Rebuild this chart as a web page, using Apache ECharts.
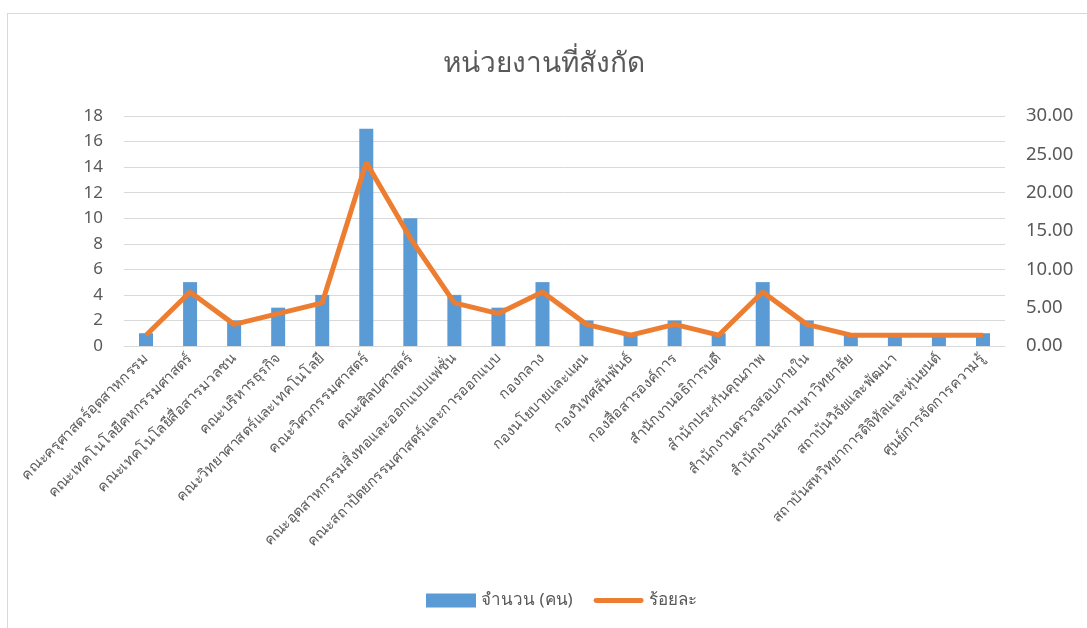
<!DOCTYPE html>
<html><head><meta charset="utf-8">
<script src="https://cdn.jsdelivr.net/npm/echarts@6/dist/echarts.min.js"></script>
<style>html,body{margin:0;padding:0;background:#fff;overflow:hidden}
#c{width:1087px;height:628px;position:absolute;left:0;top:0}
#b{position:absolute;left:7px;top:13px;width:1090px;height:630px;border:1px solid #d9d9d9;box-sizing:border-box}
</style></head><body>
<div id="b"></div>
<div id="c"></div>
<script>
var categories = ["คณะครุศาสตร์อุตสาหกรรม","คณะเทคโนโลยีคหกรรมศาสตร์","คณะเทคโนโลยีสื่อสารมวลชน","คณะบริหารธุรกิจ","คณะวิทยาศาสตร์และเทคโนโลยี","คณะวิศวกรรมศาสตร์","คณะศิลปศาสตร์","คณะอุตสาหกรรมสิ่งทอและออกแบบแฟชั่น","คณะสถาปัตยกรรมศาสตร์และการออกแบบ","กองกลาง","กองนโยบายและแผน","กองวิเทศสัมพันธ์","กองสื่อสารองค์การ","สำนักงานอธิการบดี","สำนักประกันคุณภาพ","สำนักงานตรวจสอบภายใน","สำนักงานสภามหาวิทยาลัย","สถาบันวิจัยและพัฒนา","สถาบันสหวิทยาการดิจิทัลและหุ่นยนต์","ศูนย์การจัดการความรู้"];
var counts = [1,5,2,3,4,17,10,4,3,5,2,1,2,1,5,2,1,1,1,1];
var percents = [1.41,7.04,2.82,4.23,5.63,23.94,14.08,5.63,4.23,7.04,2.82,1.41,2.82,1.41,7.04,2.82,1.41,1.41,1.41,1.41];
var seriesNames = ["จำนวน (คน)","ร้อยละ"];
var titleText = "หน่วยงานที่สังกัด";

var ff = "'Noto Sans', sans-serif";
var lineIcon = 'path://M0,0L0,0M2,4.5L48,4.5A2.5,2.5,0,0,1,48,9.5L2,9.5A2.5,2.5,0,0,1,2,4.5ZM50,14L50,14';
var chart = echarts.init(document.getElementById('c'));
chart.setOption({
  animation:false,
  title:{text:titleText,left:'center',top:45,textStyle:{fontFamily:ff,fontSize:28,fontWeight:'normal',color:'#595959'}},
  legend:{bottom:14,left:421,itemGap:21,itemWidth:50,itemHeight:14,
    textStyle:{fontFamily:ff,fontSize:17,color:'#595959'},
    data:[{name:seriesNames[0],icon:'rect'},{name:seriesNames[1],icon:lineIcon}]},
  grid:{left:124,right:82,top:116,bottom:282},
  xAxis:{type:'category',data:categories,
    axisLine:{lineStyle:{color:'#d9d9d9',width:1}},axisTick:{show:false},
    axisLabel:{interval:0,rotate:45,fontFamily:ff,fontSize:14.5,color:'#595959',margin:10}},
  yAxis:[
    {type:'value',min:0,max:18,interval:2,axisLine:{show:false},axisTick:{show:false},
     splitLine:{lineStyle:{color:'#d9d9d9',width:1}},
     axisLabel:{fontFamily:ff,fontSize:17,color:'#595959',margin:21}},
    {type:'value',min:0,max:30,interval:5,axisLine:{show:false},axisTick:{show:false},splitLine:{show:false},
     axisLabel:{fontFamily:ff,fontSize:18.5,color:'#595959',margin:21,formatter:function(v){return v.toFixed(2);}}}
  ],
  series:[
    {name:seriesNames[0],type:'bar',data:counts,barWidth:14,itemStyle:{color:'#5B9BD5'}},
    {name:seriesNames[1],type:'line',yAxisIndex:1,data:percents,symbol:'none',
     lineStyle:{color:'#ED7D31',width:5},itemStyle:{color:'#ED7D31'}}
  ]
});
</script></body></html>
